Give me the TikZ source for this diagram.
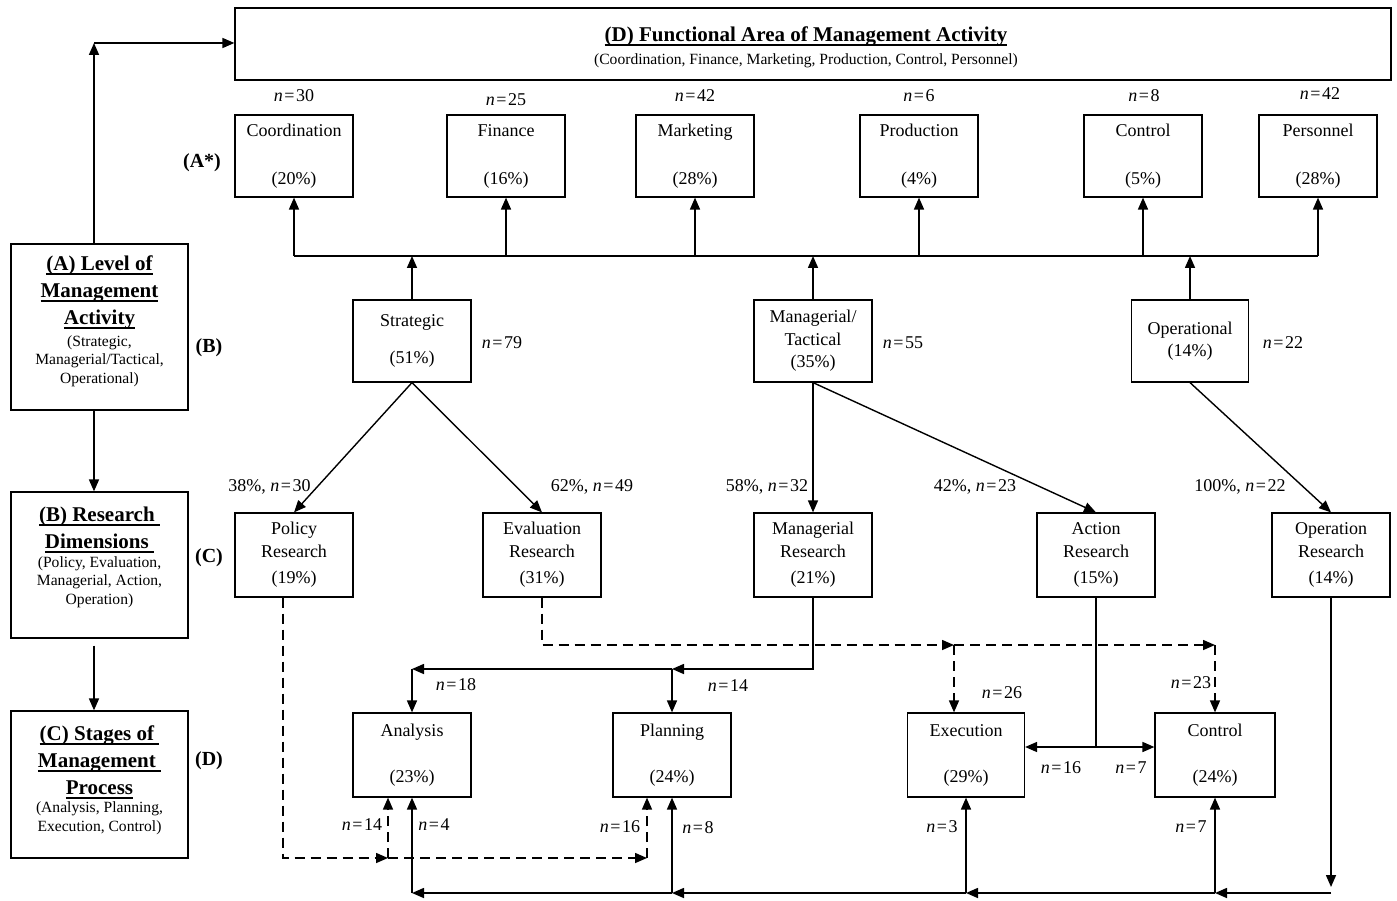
\documentclass[tikz,border=0pt]{standalone}
\usepackage{fontspec}
\setmainfont{Liberation Serif}
\usetikzlibrary{arrows.meta,calc}
\newcommand\myul[1]{\setbox0\hbox{#1}\rlap{\rule[-4.5pt]{\wd0}{1.8pt}}\box0}
\newcommand\nn[1]{\textit{n}\kern1.5pt=\kern1.5pt#1}
\newcommand\bxfont{\fontsize{18}{22.5}\selectfont}
\newcommand\ttlfont{\fontsize{21}{27}\selectfont\bfseries}
\newcommand\subfnt{\fontsize{15.6}{18.5}\selectfont}
\newcommand\lblfont{\fontsize{18}{21}\selectfont}
\newcommand\lblbf{\fontsize{20}{24}\selectfont\bfseries}
\tikzset{
  box/.style={draw, line width=1.2pt, minimum width=118pt, minimum height=84pt, inner sep=0pt, align=center, font=\bxfont},
  lbl/.style={font=\lblfont, inner sep=0pt},
  tip/.style={-{Triangle[length=12pt,width=10pt]}},
  conn/.style={line width=1.6pt, tip},
  plainln/.style={line width=1.6pt},
  thinln/.style={line width=1.2pt},
  dsh/.style={line width=1.5pt, dash pattern=on 10pt off 6pt}
}
\begin{document}
\begin{tikzpicture}[x=1pt,y=-1pt]
\useasboundingbox (0,0) rectangle (1397,901);

% top box
\node[box, minimum width=1156pt, minimum height=72pt] (D) at (813,44) {};
\node[font=\ttlfont, inner sep=0pt] (Dt) at (806,36) {\myul{(D) Functional Area of Management Activity}};
\node[font=\subfnt, inner sep=0pt] (Ds) at (806,61) {(Coordination, Finance, Marketing, Production, Control, Personnel)};

% left boxes
\node[box, minimum width=177pt, minimum height=166pt] (LA) at (99.5,327) {};
\node[font=\ttlfont, align=center, inner sep=0pt] (LAt) at (99.5,292) {\myul{(A) Level of}\\\myul{Management}\\\myul{Activity}};
\node[font=\subfnt, align=center, inner sep=0pt] (LAs) at (99.5,361) {(Strategic,\\Managerial/Tactical,\\Operational)};

\node[box, minimum width=177pt, minimum height=146pt] (LB) at (99.5,565) {};
\node[font=\ttlfont, align=center, inner sep=0pt] (LBt) at (99.5,530) {\myul{(B) Research\ }\\\myul{Dimensions\ }};
\node[font=\subfnt, align=center, inner sep=0pt] (LBs) at (99.5,582) {(Policy, Evaluation,\\Managerial, Action,\\Operation)};

\node[box, minimum width=177pt, minimum height=147pt] (LC) at (99.5,784.5) {};
\node[font=\ttlfont, align=center, inner sep=0pt] (LCt) at (99.5,762) {\myul{(C) Stages of\ }\\\myul{Management\ }\\\myul{Process}};
\node[font=\subfnt, align=center, inner sep=0pt] (LCs) at (99.5,818) {(Analysis, Planning,\\Execution, Control)};

\coordinate (corner) at (94,43);
\draw[conn] ([xshift=-5.5pt]LA.north) -- (corner);
\draw[conn] (corner) -- (corner -| D.west);
\draw[conn] ([xshift=-5.5pt]LA.south) -- ([xshift=-5.5pt]LB.north);
\draw[conn] ([xshift=-5.5pt,yshift=-7pt]LB.south) -- ([xshift=-5.5pt]LC.north);

% level labels
\node[font=\lblbf, inner sep=0pt] (lA) at (202,163) {(A*)};
\node[font=\lblbf, inner sep=0pt] (lB) at (209,348) {(B)};
\node[font=\lblbf, inner sep=0pt] (lC) at (209,558) {(C)};
\node[font=\lblbf, inner sep=0pt] (lD) at (209,761) {(D)};

% A* boxes
\foreach \nm/\x/\t/\p in {co/294/Coordination/20, fi/506/Finance/16, ma/695/Marketing/28, pr/919/Production/4, ct/1143/Control/5, pe/1318/Personnel/28}
  \node[box, minimum height=82pt] (\nm) at (\x,156) {\t\\[25.5pt](\p\%)};
\node[lbl] (nco) at (294,96) {\nn{30}};
\node[lbl] (nfi) at (506,100) {\nn{25}};
\node[lbl] (nma) at (695,96) {\nn{42}};
\node[lbl] (npr) at (919,96) {\nn{6}};
\node[lbl] (nct) at (1144,96) {\nn{8}};
\node[lbl] (npe) at (1320,94) {\nn{42}};

\coordinate (hz) at (0,256);
\draw[plainln] (co.south |- hz) -- (pe.south |- hz);
\foreach \nm in {co,fi,ma,pr,ct,pe} \draw[conn] (\nm.south |- hz) -- (\nm.south);

% B boxes
\node[box, minimum height=82pt] (st) at (412,341) {Strategic\\[14.5pt](51\%)};
\node[box, minimum height=82pt] (mt) at (813,341) {Managerial/\\Tactical\\(35\%)};
\node[box, minimum height=82pt, minimum width=117pt] (op) at (1190,341) {Operational\\(14\%)};
\foreach \nm in {st,mt,op} \draw[conn] (\nm.north) -- (\nm.north |- hz);
\node[lbl] (nst) at (502,343) {\nn{79}};
\node[lbl] (nmt) at (903,343) {\nn{55}};
\node[lbl] (nop) at (1283,343) {\nn{22}};

% C boxes
\node[box] (pol) at (294,555) {Policy\\Research\\[4pt](19\%)};
\node[box] (eva) at (542,555) {Evaluation\\Research\\[4pt](31\%)};
\node[box] (mre) at (813,555) {Managerial\\Research\\[4pt](21\%)};
\node[box] (act) at (1096,555) {Action\\Research\\[4pt](15\%)};
\node[box] (ope) at (1331,555) {Operation\\Research\\[4pt](14\%)};

\draw[conn, line width=1.4pt] (st.south) -- (pol.north);
\draw[conn, line width=1.4pt] (st.south) -- (eva.north);
\draw[conn, line width=1.4pt] (mt.south) -- (mre.north);
\draw[conn, line width=1.4pt] (mt.south) -- (act.north);
\draw[conn, line width=1.4pt] (op.south) -- (ope.north);
\node[lbl] (l38) at (269.5,487) {38\%, \nn{30}};
\node[lbl] (l62) at (592,487) {62\%, \nn{49}};
\node[lbl] (l58) at (767,487) {58\%, \nn{32}};
\node[lbl] (l42) at (975,487) {42\%, \nn{23}};
\node[lbl] (l100) at (1240,487) {100\%, \nn{22}};

% D boxes
\node[box] (an) at (412,755) {Analysis\\[23.5pt](23\%)};
\node[box] (pl) at (672,755) {Planning\\[23.5pt](24\%)};
\node[box, minimum width=117pt] (ex) at (966,755) {Execution\\[23.5pt](29\%)};
\node[box, minimum width=120pt] (cn) at (1215,755) {Control\\[23.5pt](24\%)};

% managerial research -> analysis / planning
\coordinate (m1) at (672,669);
\coordinate (m0) at (412,669);
\draw[conn] (mre.south) |- (m1);
\draw[conn] (m1) -- (m0);
\draw[conn] (m0) -- (an.north);
\draw[conn] (m1) -- (pl.north);
\node[lbl] (n18) at (456,685) {\nn{18}};
\node[lbl] (n14a) at (728,686) {\nn{14}};

% evaluation research dashed
\coordinate (e1) at (954,645);
\coordinate (e2) at (1215,645);
\draw[dsh, tip] (eva.south) |- (e1);
\draw[dsh, tip] (e1) -- (e2);
\draw[dsh, tip] (e1) -- (e1 |- ex.north);
\draw[dsh, tip] (e2) -- (cn.north);
\node[lbl] (n26) at (1002,693) {\nn{26}};
\node[lbl] (n23) at (1191,683) {\nn{23}};

% policy research dashed
\coordinate (p1) at (388,858);
\coordinate (p2) at (647,858);
\draw[dsh, tip] ([xshift=-11pt]pol.south) |- (p1);
\draw[dsh, tip] (p1) -- (p1 |- an.south);
\draw[dsh, tip] (p1) -- (p2);
\draw[dsh, tip] (p2) -- (p2 |- pl.south);
\node[lbl] (n14b) at (362,825) {\nn{14}};
\node[lbl] (n16b) at (620,827) {\nn{16}};

% action research
\coordinate (a0) at (1096,747);
\draw[thinln] (act.south) -- (a0);
\draw[conn] (a0) -- (a0 -| ex.east);
\draw[conn] (a0) -- (a0 -| cn.west);
\node[lbl] (n16a) at (1061,768) {\nn{16}};
\node[lbl] (n7a) at (1131,768) {\nn{7}};

% operation research bottom line
\coordinate (b0) at (1331,893);
\coordinate (bend) at (1331,887);
\draw[conn] (ope.south) -- (bend);
\draw[conn] (b0) -- (b0 -| cn.south);
\draw[conn] (b0 -| cn.south) -- (b0 -| ex.south);
\draw[conn] (b0 -| ex.south) -- (b0 -| pl.south);
\draw[conn] (b0 -| pl.south) -- (b0 -| an.south);
\foreach \nm in {an,pl,ex,cn} \draw[conn] (b0 -| \nm.south) -- (\nm.south);
\node[lbl] (n4) at (434,825) {\nn{4}};
\node[lbl] (n8) at (698,828) {\nn{8}};
\node[lbl] (n3) at (942,827) {\nn{3}};
\node[lbl] (n7b) at (1191,827) {\nn{7}};
\end{tikzpicture}
\end{document}
